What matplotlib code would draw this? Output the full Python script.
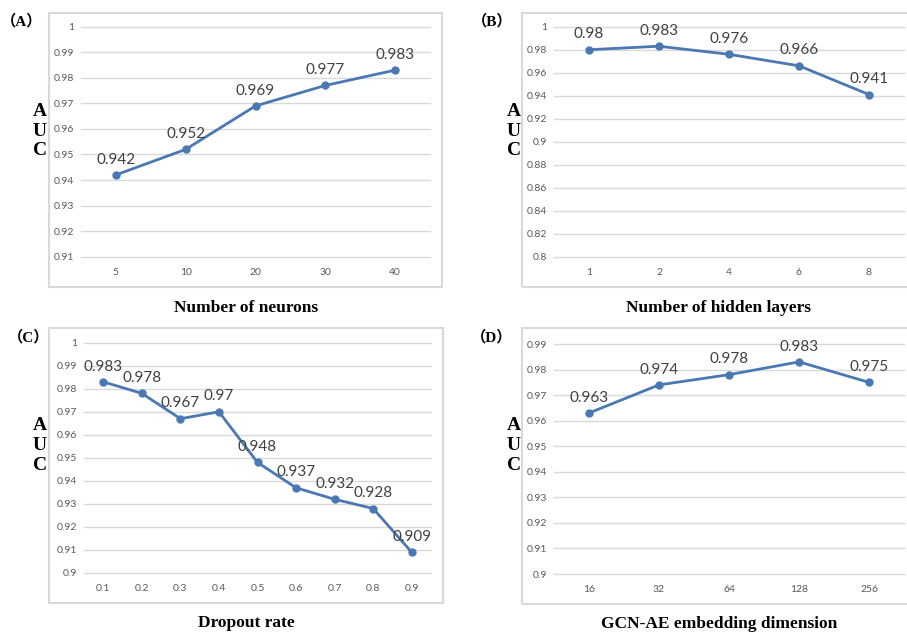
import matplotlib.pyplot as plt
import matplotlib.patches as patches

# data
neurons = ["5", "10", "20", "30", "40"]
auc_neurons = [0.942, 0.952, 0.969, 0.977, 0.983]

layers = ["1", "2", "4", "6", "8"]
auc_layers = [0.98, 0.983, 0.976, 0.966, 0.941]

dropout = ["0.1", "0.2", "0.3", "0.4", "0.5", "0.6", "0.7", "0.8", "0.9"]
auc_dropout = [0.983, 0.978, 0.967, 0.97, 0.948, 0.937, 0.932, 0.928, 0.909]

emb_dim = ["16", "32", "64", "128", "256"]
auc_emb = [0.963, 0.974, 0.978, 0.983, 0.975]

W, H = 907, 632
plt.rcParams['font.family'] = ['Lato', 'DejaVu Sans']
fig = plt.figure(figsize=(W / 100, H / 100), dpi=100)

line_color = "#4a78b3"
grid_color = "#d9d9d9"
serif = ["Liberation Serif", "Noto Sans CJK SC"]


def fx(px):
    return px / W


def fy(py):
    return 1 - py / H


def panel(cats, vals, ticks, box, plot, tag, tag_xy, auc_x, auc_y, xlabel, xlabel_xy):
    # outer frame
    bx0, by0, bx1, by1 = box
    fig.patches.append(patches.Rectangle((fx(bx0), fy(by1)), fx(bx1 - bx0), (by1 - by0) / H,
                                         transform=fig.transFigure, fill=False,
                                         edgecolor=grid_color, linewidth=1.5))
    x0, y0, x1, y1 = plot
    ax = fig.add_axes([fx(x0), fy(y1), fx(x1 - x0), (y1 - y0) / H])
    n = len(cats)
    xs = list(range(n))
    ax.plot(xs, vals, color=line_color, linewidth=2, marker="o", markersize=5)
    for x, v in zip(xs, vals):
        ax.annotate(f"{v:g}", (x, v), xytext=(0, 6), textcoords="offset points",
                    ha="center", va="bottom", fontsize=11, color="#404040")
    ax.set_xlim(-0.5, n - 0.5)
    ax.set_ylim(ticks[0], ticks[-1])
    ax.set_xticks(xs)
    ax.set_xticklabels(cats)
    ax.set_yticks(ticks)
    ax.set_yticklabels([f"{t:g}" for t in ticks])
    ax.tick_params(axis="both", length=0, labelsize=7.5, labelcolor="#595959")
    ax.tick_params(axis="x", pad=8)
    ax.tick_params(axis="y", pad=5)
    ax.grid(axis="y", color=grid_color, linewidth=1)
    for gl in ax.get_ygridlines():
        gl.set_clip_on(False)
    ax.set_axisbelow(True)
    for s in ax.spines.values():
        s.set_visible(False)
    ax.patch.set_alpha(0)

    fig.text(fx(tag_xy[0]), fy(tag_xy[1]), tag, family=serif, fontweight="bold",
             fontsize=11, ha="center", va="center")
    for letter, yy in zip("AUC", auc_y):
        fig.text(fx(auc_x), fy(yy), letter, family=serif, fontweight="bold",
                 fontsize=14, ha="center", va="center")
    fig.text(fx(xlabel_xy[0]), fy(xlabel_xy[1]), xlabel, family=serif,
             fontweight="bold", fontsize=12.5, ha="center", va="baseline")


panel(neurons, auc_neurons,
      [0.91, 0.92, 0.93, 0.94, 0.95, 0.96, 0.97, 0.98, 0.99, 1.0],
      (49, 13, 442, 287), (81, 26.7, 430, 256.7),
      "（A）", (22, 21), 40, (111, 131, 151), "Number of neurons", (246, 312))

panel(layers, auc_layers,
      [0.8, 0.82, 0.84, 0.86, 0.88, 0.9, 0.92, 0.94, 0.96, 0.98, 1.0],
      (522, 13, 909, 287), (554, 26.7, 904, 256.7),
      "（B）", (492, 21), 514, (111, 131, 151), "Number of hidden layers", (719, 312))

panel(dropout, auc_dropout,
      [0.9, 0.91, 0.92, 0.93, 0.94, 0.95, 0.96, 0.97, 0.98, 0.99, 1.0],
      (49, 328, 443, 603), (84, 342.7, 431, 573),
      "（C）", (29, 337), 40, (426, 446, 466), "Dropout rate", (246, 627))

panel(emb_dim, auc_emb,
      [0.9, 0.91, 0.92, 0.93, 0.94, 0.95, 0.96, 0.97, 0.98, 0.99],
      (522, 328, 909, 604), (554, 344, 904, 574),
      "（D）", (492, 337), 514, (426, 446, 466), "GCN-AE embedding dimension", (719, 628))

fig.savefig("out.png", dpi=100)
